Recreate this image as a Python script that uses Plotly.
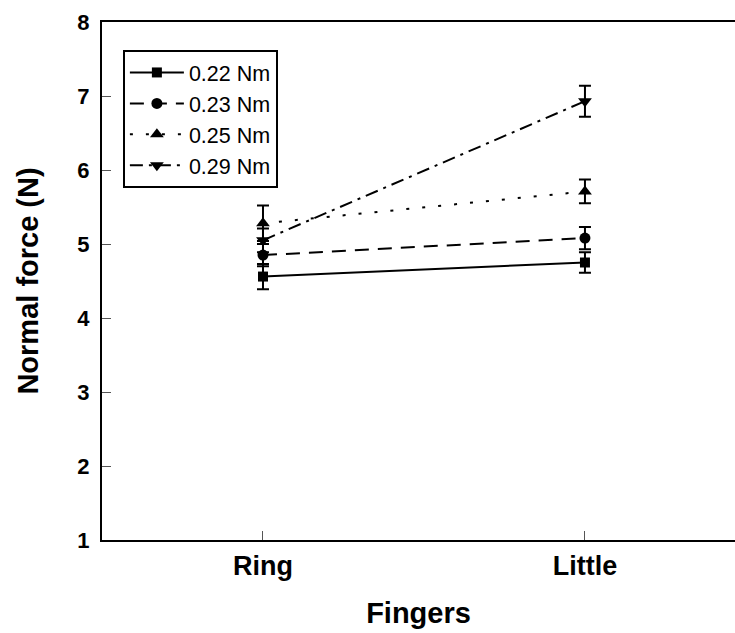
import plotly.graph_objects as go

fingers = ["Ring", "Little"]
series_names = ["0.22 Nm", "0.23 Nm", "0.25 Nm", "0.29 Nm"]
means_022 = [4.56, 4.75]
means_023 = [4.85, 5.08]
means_025 = [5.28, 5.71]
means_029 = [5.05, 6.93]
err_022 = [0.17, 0.14]
err_023 = [0.15, 0.15]
err_025 = [0.24, 0.16]
err_029 = [0.16, 0.21]
y_ticks = [1, 2, 3, 4, 5, 6, 7, 8]

means = [means_022, means_023, means_025, means_029]
errs = [err_022, err_023, err_025, err_029]
dashes = ["solid", "14px,9px", "3px,13px", "13px,6px,3px,6px"]
symbols = ["square", "circle", "triangle-up", "triangle-down"]
sizes = [10, 11, 12, 12]

fig = go.Figure()
for name, m, e, d, s, sz in zip(series_names, means, errs, dashes, symbols, sizes):
    fig.add_trace(go.Scatter(
        x=fingers, y=m, name=name, mode="lines+markers",
        line=dict(color="black", width=2, dash=d),
        marker=dict(symbol=s, size=sz, color="black"),
        error_y=dict(type="data", array=e, visible=True, color="black",
                     thickness=2, width=6),
    ))

FONT = "Liberation Sans, Arial, sans-serif"
fig.update_layout(
    width=735, height=633,
    margin=dict(l=102, r=0, t=22, b=93, autoexpand=False),
    paper_bgcolor="white", plot_bgcolor="white",
    showlegend=True,
    legend=dict(
        x=0.033, y=0.946, xanchor="left", yanchor="top",
        bgcolor="white", bordercolor="black", borderwidth=2,
        font=dict(family=FONT, size=21.5, color="black"),
        itemwidth=54, tracegroupgap=0,
    ),
    xaxis=dict(
        type="category", range=[-0.5, 1.466],
        showline=True, linecolor="black", linewidth=2, mirror=True,
        ticks="inside", ticklen=9, tickwidth=1, tickcolor="#555",
        showgrid=False, zeroline=False,
        tickfont=dict(family=FONT, size=27, color="black", weight="bold"),
        ticklabelstandoff=1,
        title=dict(text="<b>Fingers</b>", standoff=22,
                   font=dict(family=FONT, size=29, color="black")),
    ),
    yaxis=dict(
        range=[1, 8], tickvals=y_ticks,
        showline=True, linecolor="black", linewidth=2, mirror=False,
        ticks="inside", ticklen=9, tickwidth=1, tickcolor="#555",
        showgrid=False, zeroline=False,
        tickfont=dict(family=FONT, size=22, color="black", weight="bold"),
        ticklabelstandoff=6,
        title=dict(text="<b>Normal force (N)</b>", standoff=30,
                   font=dict(family=FONT, size=29, color="black")),
    ),
)

fig.write_html(
    "out.html",
    config={"displayModeBar": False, "responsive": False},
    post_script=(
        "document.documentElement.style.margin='0';"
        "document.documentElement.style.overflow='hidden';"
        "document.body.style.margin='0';"
        "document.body.style.overflow='hidden';"
    ),
)
